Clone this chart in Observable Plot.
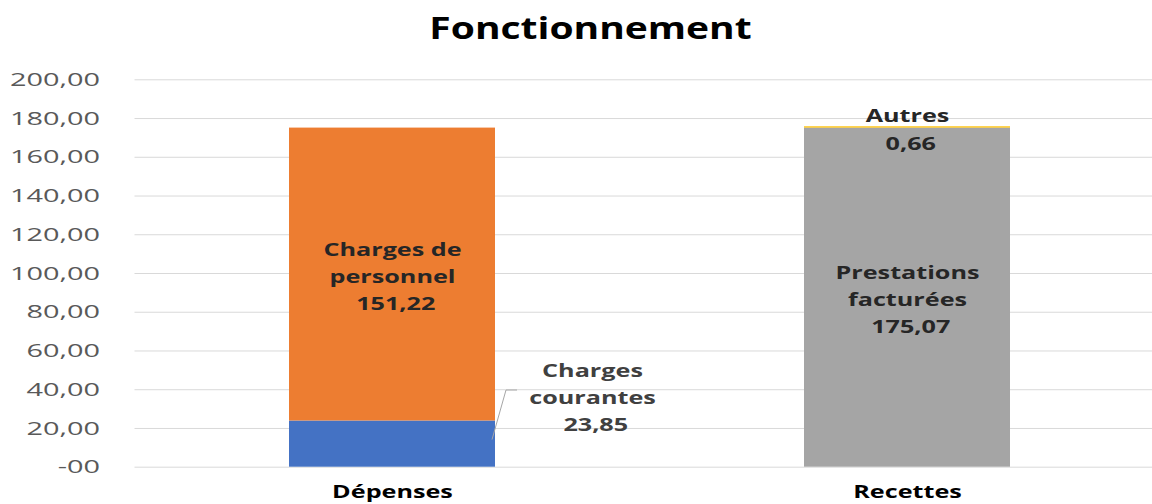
<!DOCTYPE html>
<html><head><meta charset="utf-8">
<script src="https://cdn.jsdelivr.net/npm/d3@7"></script>
<script src="https://cdn.jsdelivr.net/npm/@observablehq/plot@0.6"></script>
<style>html,body{margin:0;padding:0;background:#fff;overflow:hidden}</style>
</head><body><div id="chart"></div>
<script>
const title = "Fonctionnement";
const categories = ["Dépenses", "Recettes"];
const seriesNames = ["Charges courantes", "Charges de personnel", "Prestations facturées", "Autres"];
const seriesCategory = ["Dépenses", "Dépenses", "Recettes", "Recettes"];
const seriesValues = [23.85, 151.22, 175.07, 0.66];
const seriesLabels = ["Charges\ncourantes", "Charges de\npersonnel", "Prestations\nfacturées", "Autres"];
const seriesColors = ["#4472C4", "#ED7D31", "#A5A5A5", "#FFC000"];
const yTicks = [0, 20, 40, 60, 80, 100, 120, 140, 160, 180, 200];
const yTickLabels = ["-00", "20,00", "40,00", "60,00", "80,00", "100,00", "120,00", "140,00", "160,00", "180,00", "200,00"];

const data = seriesNames.map((s, i) => ({series: s, category: seriesCategory[i], value: seriesValues[i], label: seriesLabels[i]}));
const fmt = v => v.toFixed(2).replace(".", ",");
const lbl = d => d.label + "\n\u00a0" + fmt(d.value);
const inside = new Set(["Charges de personnel", "Prestations facturées"]);

const W = 1152, H = 504;
const ML = 134.5, MR = -12.5, MT = 79.3, MB = 37.3;
const OUT_DX = 200, OUT_DY = -48.6;

function leader(index, scales) {
  const xs = scales.x, ys = scales.y;
  const d = data[0];
  const bw = xs.bandwidth ? xs.bandwidth() : 0;
  const right = xs(d.category) + bw;
  const ym = ys(d.value / 2);
  const p = d3.path();
  p.moveTo(right - 3, ym - 4);
  p.lineTo(right + 11, ym + OUT_DY - 5);
  p.lineTo(right + 22, ym + OUT_DY - 5);
  return d3.create("svg:path").attr("d", p.toString()).attr("fill", "none")
    .attr("stroke", "#A6A6A6").attr("stroke-width", 1).node();
}

const plot = Plot.plot({
  width: W, height: H,
  marginLeft: ML, marginRight: MR, marginTop: MT, marginBottom: MB,
  style: {fontFamily: "'Open Sans', sans-serif", background: "#fff"},
  x: {domain: categories, paddingInner: 0.6, paddingOuter: 0.3, axis: null},
  y: {domain: [0, 200], axis: null},
  color: {domain: seriesNames, range: seriesColors},
  marks: [
    Plot.ruleY(yTicks, {stroke: "#D9D9D9", strokeWidth: 1}),
    Plot.barY(data, Plot.stackY({x: "category", y: "value", fill: "series"})),
    Plot.axisY({ticks: yTicks, tickFormat: d => yTickLabels[yTicks.indexOf(d)], tickSize: 0, tickPadding: 35,
      fontSize: 19, color: "#595959", fill: "#595959", label: null, ariaLabel: "y-axis tick label"}),
    Plot.axisX({tickSize: 0, tickPadding: 18, fontSize: 18, fontWeight: "bold", color: "#000", fill: "#000", label: null}),
    Plot.text(data, Plot.stackY({x: "category", y: "value", text: d => inside.has(d.series) ? lbl(d) : "",
      fontSize: 18, fontWeight: "bold", fill: "#262626", lineHeight: 1.5})),
    Plot.text(data, Plot.stackY({x: "category", y: "value", text: d => d.series === "Autres" ? lbl(d) : "",
      fontSize: 18, fontWeight: "bold", fill: "#262626", lineHeight: 1.55})),
    Plot.text(data, Plot.stackY({x: "category", y: "value", text: d => d.series === "Charges courantes" ? lbl(d) : "",
      dx: OUT_DX, dy: OUT_DY, fontSize: 18, fontWeight: "bold", fill: "#404040", lineHeight: 1.5})),
    leader,
    Plot.text([title], {frameAnchor: "top", dx: 590 - (ML + W - MR) / 2, dy: 28.5 - MT, lineAnchor: "middle",
      fontSize: 30, fontWeight: "bold", fill: "#000"})
  ]
});

document.getElementById("chart").appendChild(plot);

// widen glyphs horizontally around each text's own anchor (the reference's type is stretched)
function stretch(svg) {
  svg.querySelectorAll("text").forEach(t => {
    const txt = t.textContent;
    const sx = txt === title ? 1.3 : (yTickLabels.includes(txt) ? 1.52 : 1.4);
    let tr = t.getAttribute("transform") || "";
    const x = t.getAttribute("x");
    if (x !== null && /^-?[\d.]+$/.test(x)) {
      tr += ` translate(${x},0)`;
      t.removeAttribute("x");
    }
    t.setAttribute("transform", `${tr} scale(${sx},1)`);
  });
}
stretch(plot);
</script>
</body></html>
